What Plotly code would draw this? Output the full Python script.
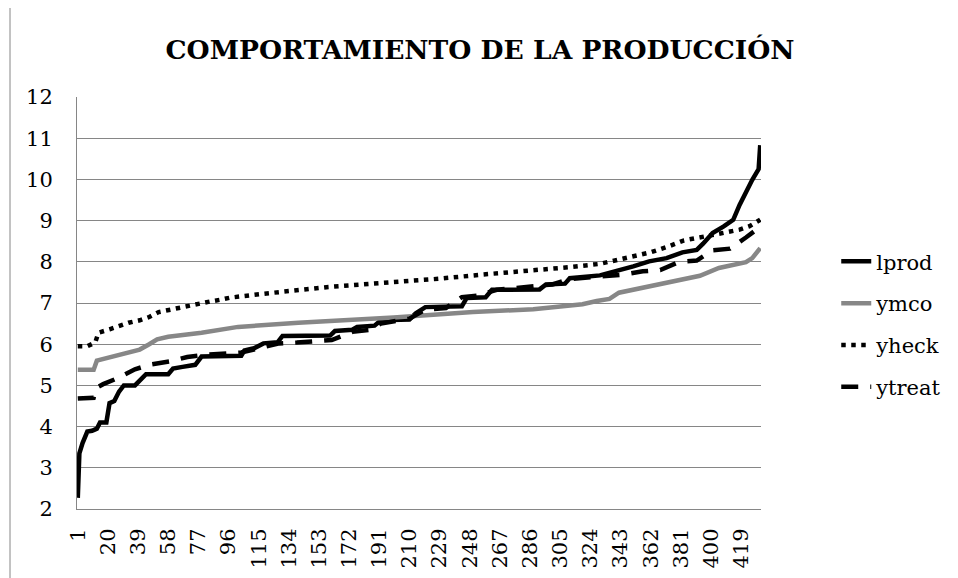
import plotly.graph_objects as go

N_CATEGORIES = 431
tick_positions = list(range(1, 420, 19))
tick_labels = [str(v) for v in tick_positions]

# Values (category index -> value)
lprod_x = [1, 2, 4, 7, 10, 13, 15, 19, 21, 24, 27, 30, 37, 40, 44, 58, 61, 67, 75, 79, 90, 104,
           106, 112, 118, 127, 130, 160, 163, 174, 177, 188, 192, 210, 214, 220, 243, 246, 258,
           262, 292, 296, 308, 311, 330, 340, 351, 361, 372, 382, 391, 395, 401, 408, 414, 418,
           422, 426, 430, 431]
lprod_y = [2.27, 3.35, 3.6, 3.88, 3.9, 3.95, 4.1, 4.1, 4.57, 4.62, 4.85, 5.0, 5.0, 5.13, 5.27,
           5.27, 5.41, 5.45, 5.5, 5.7, 5.72, 5.72, 5.85, 5.9, 6.02, 6.05, 6.2, 6.21, 6.32, 6.35,
           6.42, 6.45, 6.58, 6.6, 6.75, 6.9, 6.92, 7.12, 7.14, 7.32, 7.33, 7.45, 7.47, 7.6, 7.67,
           7.77, 7.89, 8.01, 8.09, 8.23, 8.29, 8.44, 8.7, 8.86, 9.02, 9.38, 9.7, 9.99, 10.25, 10.83]

ymco_x = [1, 11, 13, 27, 40, 46, 51, 58, 79, 102, 140, 200, 250, 288, 302, 319, 328, 336, 342,
          357, 374, 383, 393, 405, 422, 426, 431]
ymco_y = [5.38, 5.38, 5.6, 5.75, 5.87, 6.0, 6.12, 6.18, 6.28, 6.42, 6.52, 6.65, 6.78, 6.85, 6.9,
          6.97, 7.05, 7.1, 7.25, 7.37, 7.53, 7.58, 7.66, 7.85, 7.99, 8.09, 8.33]

yheck_x = [1, 7, 12, 14, 21, 27, 33, 40, 46, 52, 58, 65, 71, 77, 85, 91, 97, 117, 138, 159, 180,
           200, 229, 256, 284, 302, 311, 330, 342, 350, 362, 373, 383, 405, 414, 418, 424, 431]
yheck_y = [5.95, 5.95, 6.04, 6.28, 6.36, 6.45, 6.52, 6.58, 6.66, 6.78, 6.83, 6.9, 6.94, 7.0, 7.04,
           7.08, 7.13, 7.22, 7.31, 7.39, 7.45, 7.5, 7.59, 7.69, 7.77, 7.83, 7.87, 7.95, 8.05, 8.13,
           8.23, 8.37, 8.52, 8.68, 8.74, 8.78, 8.86, 9.02]

ytreat_x = [1, 11, 13, 17, 27, 37, 47, 60, 70, 80, 104, 112, 128, 139, 152, 161, 174, 185, 192,
            203, 210, 220, 233, 243, 253, 265, 277, 287, 300, 311, 323, 334, 345, 357, 368, 380,
            391, 401, 412, 422, 431]
ytreat_y = [4.68, 4.7, 4.95, 5.03, 5.19, 5.39, 5.51, 5.59, 5.69, 5.74, 5.8, 5.87, 6.02, 6.04, 6.07,
            6.1, 6.3, 6.35, 6.5, 6.58, 6.62, 6.84, 6.88, 7.14, 7.18, 7.32, 7.36, 7.42, 7.45, 7.58,
            7.62, 7.65, 7.69, 7.77, 7.8, 8.0, 8.03, 8.28, 8.32, 8.59, 8.85]

FONT = "DejaVu Serif"
GRID = "#868686"

fig = go.Figure()
series = [
    ("lprod", lprod_x, lprod_y, dict(color="#000000", width=4.5)),
    ("ymco", ymco_x, ymco_y, dict(color="#878787", width=4.5)),
    ("yheck", yheck_x, yheck_y, dict(color="#000000", width=4.5, dash="4.5px,5.5px")),
    ("ytreat", ytreat_x, ytreat_y, dict(color="#000000", width=4.5, dash="17px,12px")),
]
for name, xs, ys, line in series:
    fig.add_trace(go.Scatter(x=xs, y=ys, mode="lines", name=name, line=line,
                             legendgroup=name))

fig.update_layout(
    width=958, height=578,
    margin=dict(l=69, r=205, t=89, b=77, autoexpand=False),
    paper_bgcolor="white", plot_bgcolor="white",
    font=dict(family=FONT, color="#000000", size=21),
    title=dict(text="<b>COMPORTAMIENTO DE LA PRODUCCIÓN</b>", x=472 / 958, xanchor="center",
               y=1 - 42 / 578, yanchor="middle", yref="container",
               font=dict(family=FONT, size=26.5, color="#000000")),
    showlegend=True,
    legend=dict(x=1.11, xanchor="left", y=0.65, yanchor="top",
                font=dict(family=FONT, size=21),
                bgcolor="rgba(0,0,0,0)", tracegroupgap=11.5, traceorder="grouped"),
    xaxis=dict(range=[0.5, N_CATEGORIES + 0.5], tickmode="array", tickvals=tick_positions,
               ticktext=tick_labels, tickangle=-90, showgrid=False, showline=True,
               linecolor=GRID, linewidth=1, ticks="", zeroline=False,
               tickfont=dict(family=FONT, size=21), ticklabelstandoff=10),
    yaxis=dict(range=[2, 12], dtick=1, tick0=0, showgrid=True, gridcolor=GRID, gridwidth=1,
               showline=True, linecolor=GRID, linewidth=1, ticks="", zeroline=False,
               tickfont=dict(family=FONT, size=21), ticklabelstandoff=19),
    shapes=[
        dict(type="line", xref="paper", yref="paper", x0=-67 / 684, x1=2.0,
             y0=(509 - 7) / 412, y1=(509 - 7) / 412, line=dict(color=GRID, width=1)),
        dict(type="line", xref="paper", yref="paper", x0=-67 / 684, x1=-67 / 684,
             y0=-1.0, y1=(509 - 7) / 412, line=dict(color=GRID, width=1)),
    ],
)

fig.write_html("out.html")
